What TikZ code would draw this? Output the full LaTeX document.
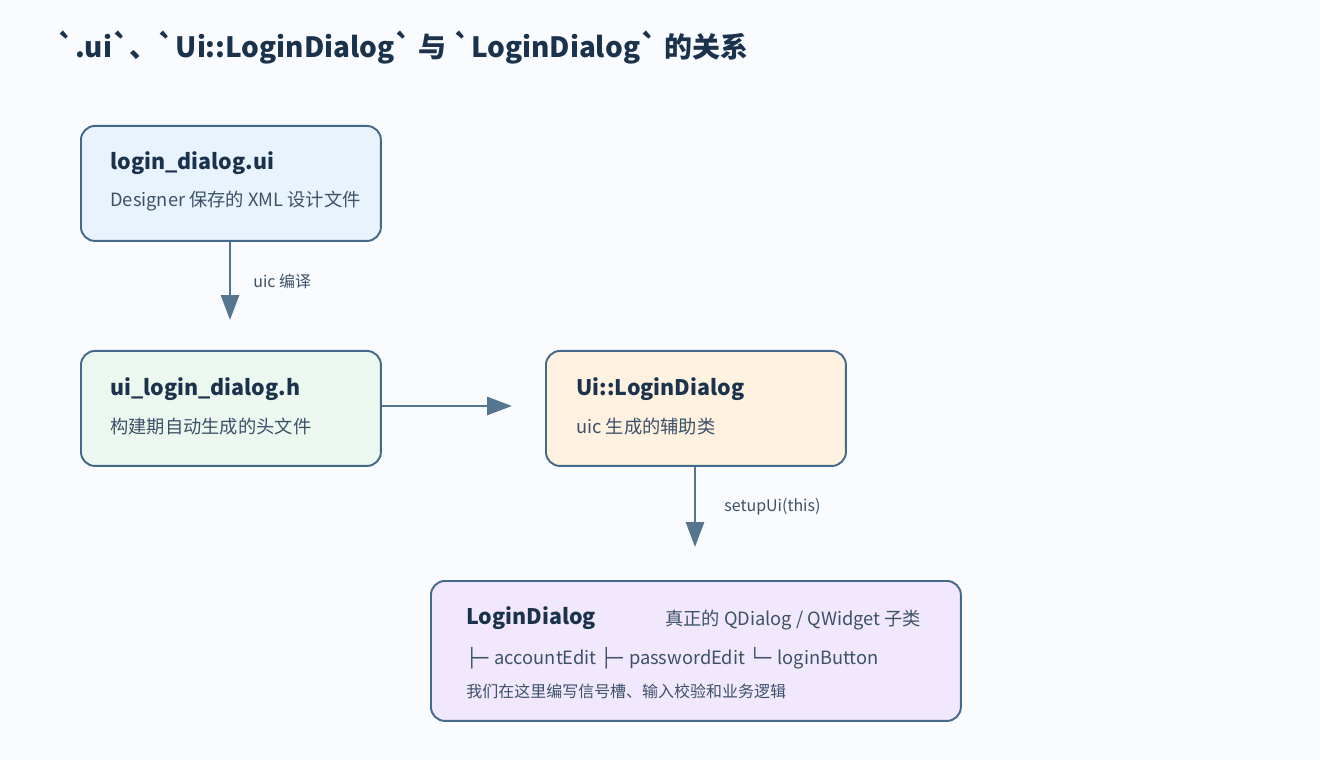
\documentclass[tikz,border=0pt]{standalone}
\usepackage{fontspec}
\setmainfont{Noto Sans CJK SC}[Ligatures=TeXOff]
\newfontfamily\boxfont{DejaVu Sans}
\usetikzlibrary{arrows.meta}

\definecolor{pagebg}{HTML}{F9FBFE}
\definecolor{edgecol}{HTML}{44698A}
\definecolor{arrowcol}{HTML}{56758F}
\definecolor{titlecol}{HTML}{1B324D}
\definecolor{textcol}{HTML}{3C5169}
\definecolor{fillui}{HTML}{E8F3FE}
\definecolor{fillh}{HTML}{ECF8EF}
\definecolor{fillcls}{HTML}{FEF1DF}
\definecolor{filldlg}{HTML}{F2E8FD}

\newcommand{\bq}{\symbol{96}}
\newcommand{\tee}{{\boxfont ├─}\hspace{0.12em}}
\newcommand{\elbow}{{\boxfont └─}\hspace{0.12em}}

\begin{document}
\begin{tikzpicture}[x=0.02cm, y=-0.02cm,
    every node/.style={inner sep=0pt, text opacity=1},
    box/.style={rectangle, rounded corners=0.28cm, draw=edgecol, line width=1.1pt, anchor=north west},
    boxtitle/.style={anchor=west, text=titlecol, font=\fontsize{12.2}{14}\selectfont\bfseries},
    boxtext/.style={anchor=west, text=textcol, font=\fontsize{10.4}{12}\selectfont},
    smalltext/.style={anchor=west, text=textcol, font=\fontsize{9.1}{11}\selectfont},
    link/.style={-{Triangle[length=0.5cm, width=0.36cm]}, draw=arrowcol, line width=1.7pt}]
    \fill[pagebg] (0,0) rectangle (1320,760);
    \useasboundingbox (0,0) rectangle (1320,760);

    \node (title) [anchor=west, text=titlecol, font=\fontsize{15.9}{19}\selectfont\bfseries] at (57,48) {\bq.ui\bq、\bq Ui::LoginDialog\bq{} 与 \bq LoginDialog\bq{} 的关系};

    % boxes
    \node (uifile) [box, fill=fillui, minimum width=6cm, minimum height=2.3cm] at (80,125) {};
    \node (header) [box, fill=fillh, minimum width=6cm, minimum height=2.3cm] at (80,350) {};
    \node (uiclass) [box, fill=fillcls, minimum width=6cm, minimum height=2.3cm] at (545,350) {};
    \node (dialog) [box, fill=filldlg, minimum width=10.6cm, minimum height=2.8cm] at (430,580) {};

    % box texts
    \node (uiname) [boxtitle] at (110,163) {login\_dialog.ui};
    \node (uidesc) [boxtext] at (110,201) {Designer 保存的 XML 设计文件};
    \node (hname) [boxtitle] at (110,389) {ui\_login\_dialog.h};
    \node (hdesc) [boxtext] at (110,427) {构建期自动生成的头文件};
    \node (clsname) [boxtitle] at (576,389) {Ui::LoginDialog};
    \node (clsdesc) [boxtext] at (576,427) {uic 生成的辅助类};
    \node (dlgname) [boxtitle] at (466,618) {LoginDialog};
    \node (dlgkind) [boxtext] at (665,620) {真正的 QDialog / QWidget 子类};
    \node (dlgtree) [boxtext] at (466,658) {\tee{} accountEdit \tee{} passwordEdit \elbow{} loginButton};
    \node (dlgnote) [smalltext] at (466,691) {我们在这里编写信号槽、输入校验和业务逻辑};

    % arrow ends
    \coordinate (uicend) at (230,320);
    \coordinate (hend) at (512,406);
    \coordinate (setupend) at (695,547);

    \draw[link] (uifile.south -| uicend) -- (uicend);
    \draw[link] (header.east |- hend) -- (hend);
    \draw[link] (uiclass.south -| setupend) -- (setupend);

    \node (uiclabel) [smalltext] at (253,281) {uic 编译};
    \node (setuplabel) [smalltext] at (724,507) {setupUi(this)};
\end{tikzpicture}
\end{document}
